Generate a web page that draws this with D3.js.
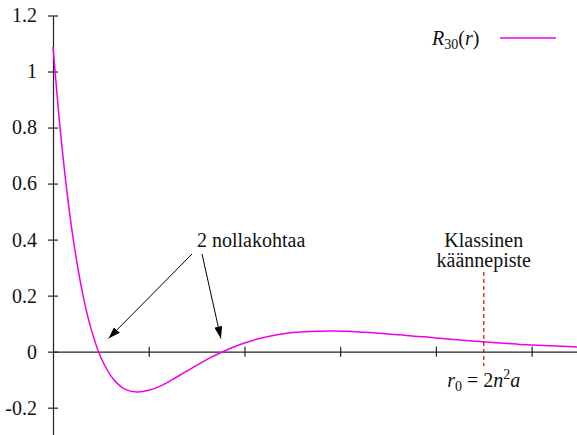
<!DOCTYPE html>
<html>
<head>
<meta charset="utf-8">
<script src="https://cdn.jsdelivr.net/npm/d3@7"></script>
<style>
  html, body { margin: 0; padding: 0; background: #fff; }
  svg { display: block; }
  svg text { font-family: "Times New Roman", Times, "Liberation Serif", Tinos, "Nimbus Roman", "DejaVu Serif", "Noto Serif", serif; }
</style>
</head>
<body>
<svg id="chart" width="577" height="435"></svg>
<script>
// Radial wave function R30(r), r in units of the Bohr radius a
const radius = [0, 0.25, 0.5, 0.75, 1, 1.25, 1.5, 1.75, 2, 2.5, 3, 3.5, 4, 4.5, 5, 5.5, 6, 6.5, 7, 7.5,
  8, 8.5, 9, 9.5, 10, 10.5, 11, 11.5, 12, 12.5, 13, 13.5, 14, 14.5, 15, 15.5, 16, 16.5, 17,
  17.5, 18, 18.5, 19, 19.5, 20, 20.5, 21, 21.5, 22];
const r30 = [1.089, 0.840, 0.632, 0.459, 0.318, 0.203, 0.110, 0.037, -0.021, -0.096, -0.134, -0.144, -0.138,
  -0.122, -0.099, -0.074, -0.049, -0.025, -0.004, 0.015, 0.031, 0.044, 0.054, 0.062, 0.068,
  0.071, 0.073, 0.074, 0.073, 0.072, 0.069, 0.067, 0.063, 0.060, 0.056, 0.053, 0.049, 0.045,
  0.042, 0.038, 0.035, 0.032, 0.029, 0.026, 0.024, 0.022, 0.020, 0.018, 0.016];
const yTicks = [-0.2, 0, 0.2, 0.4, 0.6, 0.8, 1, 1.2];
const yTickLabels = ["-0.2", "0", "0.2", "0.4", "0.6", "0.8", "1", "1.2"];
const xTicks = [4, 8, 12, 16, 20];
const turningPoint = 18;          // r0 = 2 n^2 a with n = 3
const nodes = [1.902, 7.098];     // zeros of R30

const svg = d3.select("#chart");
const x = d3.scaleLinear().domain([0, 22]).range([53, 579.5]);
const y = d3.scaleLinear().domain([-0.3, 1.2]).range([435.7, 15.5]);
const axisColor = "#222";
const fontSize = 20;

// axes
const xAxis = svg.append("g").attr("transform", `translate(0,${y(0)})`)
  .call(d3.axisBottom(x).tickValues(xTicks).tickSize(5).tickFormat("").tickSizeOuter(0));
xAxis.selectAll(".tick line").attr("y1", -5).attr("y2", 5);
const yAxis = svg.append("g").attr("transform", `translate(${x(0)},0)`)
  .call(d3.axisLeft(y).tickValues(yTicks).tickSize(5).tickPadding(11).tickSizeOuter(0)
    .tickFormat((d, i) => yTickLabels[i]));
yAxis.selectAll(".tick line").attr("x1", -5).attr("x2", 5);
[xAxis, yAxis].forEach(g => {
  g.attr("font-family", null);
  g.select(".domain").attr("stroke", axisColor).attr("stroke-width", 1.2);
  g.selectAll(".tick line").attr("stroke", axisColor).attr("stroke-width", 1.2);
});
yAxis.selectAll(".tick text").attr("font-size", fontSize).attr("fill", "#111");

// the curve
const line = d3.line()
  .x((d, i) => x(radius[i]))
  .y(d => y(d))
  .curve(d3.curveCatmullRom);
svg.append("path")
  .datum(r30)
  .attr("d", line)
  .attr("fill", "none")
  .attr("stroke", "#ee00ee")
  .attr("stroke-width", 1.5);

// classical turning point
svg.append("line")
  .attr("x1", x(turningPoint)).attr("x2", x(turningPoint))
  .attr("y1", 272).attr("y2", 366)
  .attr("stroke", "#dd1111").attr("stroke-width", 1.3)
  .attr("stroke-dasharray", "4,3");

const tp = svg.append("text")
  .attr("x", x(turningPoint)).attr("text-anchor", "middle")
  .attr("font-size", fontSize).attr("fill", "#111");
tp.append("tspan").attr("x", x(turningPoint)).attr("y", 247).text("Klassinen");
tp.append("tspan").attr("x", x(turningPoint)).attr("y", 267).text("käännepiste");

const r0 = svg.append("text")
  .attr("x", x(turningPoint)).attr("y", 387).attr("text-anchor", "middle")
  .attr("font-size", fontSize).attr("fill", "#111");
r0.append("tspan").attr("font-style", "italic").text("r");
r0.append("tspan").attr("font-size", 14).attr("dy", 4).text("0");
r0.append("tspan").attr("dy", -4).text(" = 2");
r0.append("tspan").attr("font-style", "italic").text("n");
r0.append("tspan").attr("font-size", 14).attr("dy", -8).text("2");
r0.append("tspan").attr("dy", 8).attr("font-style", "italic").text("a");

// node annotation
svg.append("defs").append("marker")
  .attr("id", "arrow").attr("viewBox", "0 0 12 8")
  .attr("refX", 12).attr("refY", 4)
  .attr("markerWidth", 12).attr("markerHeight", 8)
  .attr("markerUnits", "userSpaceOnUse").attr("orient", "auto")
  .append("path").attr("d", "M0,0 L12,4 L0,8 Z").attr("fill", "#000");

svg.append("text")
  .attr("x", 197).attr("y", 247)
  .attr("font-size", fontSize).attr("fill", "#111")
  .text("2 nollakohtaa");

const arrowStarts = [[192, 254], [202, 254]];
const arrowTips = [[x(nodes[0]) + 10, y(0.047)], [x(nodes[1]) - 2, y(0.047)]];
arrowStarts.forEach((s, i) => {
  svg.append("line")
    .attr("x1", s[0]).attr("y1", s[1])
    .attr("x2", arrowTips[i][0]).attr("y2", arrowTips[i][1])
    .attr("stroke", "#000").attr("stroke-width", 1)
    .attr("marker-end", "url(#arrow)");
});

// legend
const legend = svg.append("text")
  .attr("x", 432).attr("y", 45)
  .attr("font-size", fontSize).attr("fill", "#111");
legend.append("tspan").attr("font-style", "italic").text("R");
legend.append("tspan").attr("font-size", 14).attr("dy", 4).text("30");
legend.append("tspan").attr("dy", -4).text("(");
legend.append("tspan").attr("font-style", "italic").text("r");
legend.append("tspan").text(")");
svg.append("line")
  .attr("x1", 500).attr("x2", 556).attr("y1", 38).attr("y2", 38)
  .attr("stroke", "#ee00ee").attr("stroke-width", 1.5);
</script>
</body>
</html>
